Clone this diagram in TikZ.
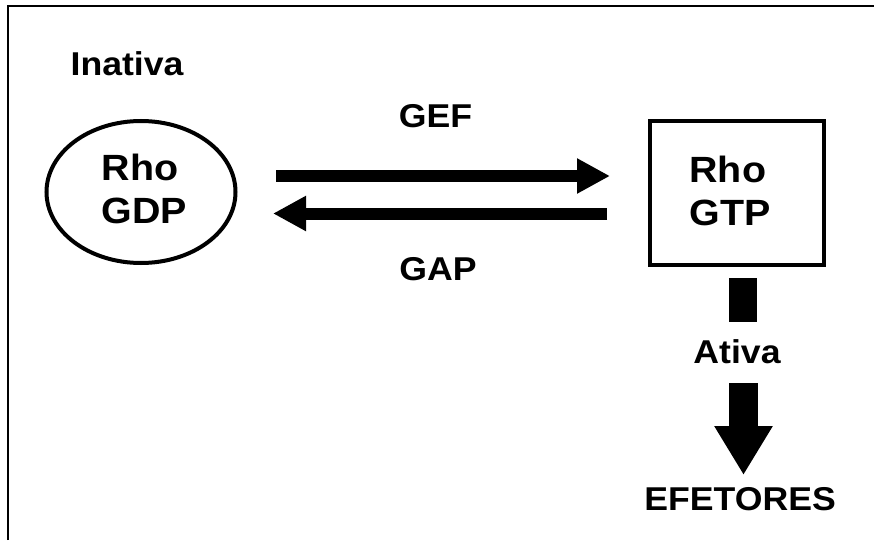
\documentclass[tikz,border=0pt]{standalone}
\usepackage{fontspec}
\setmainfont[FakeStretch=1.08]{Liberation Sans}
\usetikzlibrary{arrows.meta,shapes.geometric}

\begin{document}
\begin{tikzpicture}[x=1pt,y=-1pt,
  lbl/.style={inner sep=0pt,font=\fontsize{33}{40}\selectfont\bfseries},
  molname/.style={inner sep=0pt,align=left,font=\fontsize{36.5}{43}\selectfont\bfseries},
  fatarrow/.style={line width=12pt,-{Triangle[length=33pt,width=33pt]}},
  downarrow/.style={line width=29pt,-{Triangle[length=49pt,width=55pt]}}]
  \useasboundingbox (0,0) rectangle (874,540);

  % frame
  \draw[line width=2pt] (8,540) -- (8,6) -- (874,6);

  % inactive and active forms
  \node[draw,ellipse,line width=4pt,minimum width=189pt,minimum height=142pt,inner sep=0pt] (gdp) at (141,192) {};
  \node[molname] (gdptext) at (144.5,188.5) {Rho\\GDP};
  \node[draw,rectangle,line width=4pt,minimum width=174pt,minimum height=144pt,inner sep=0pt] (gtp) at (737,193) {};
  \node[molname] (gtptext) at (730,191) {Rho\\GTP};

  % labels
  \node[lbl,anchor=base west] (inativa) at (70.4,76) {Inativa};
  \node[lbl,anchor=base] (gef) at (435.5,128) {GEF};
  \node[lbl,anchor=base] (gap) at (438,280) {GAP};
  \node[lbl,anchor=base] (ativa) at (737,363) {Ativa};
  \node[lbl,anchor=base east] (efetores) at (836,510) {EFETORES};

  % exchange arrows between the two forms
  \coordinate (gefA) at (276,176);
  \coordinate (gefB) at (610,176);
  \coordinate (gapA) at (607,213.5);
  \coordinate (gapB) at (273,213.5);
  \draw[fatarrow] (gefA) -- (gefB);
  \draw[fatarrow] (gapA) -- (gapB);

  % signal to effectors
  \node[fill,inner sep=0pt,minimum width=28pt,minimum height=44pt] (stem) at (743,300) {};
  \coordinate (outA) at (743.5,383);
  \coordinate (outB) at (743.5,475);
  \draw[downarrow] (outA) -- (outB);
\end{tikzpicture}
\end{document}
